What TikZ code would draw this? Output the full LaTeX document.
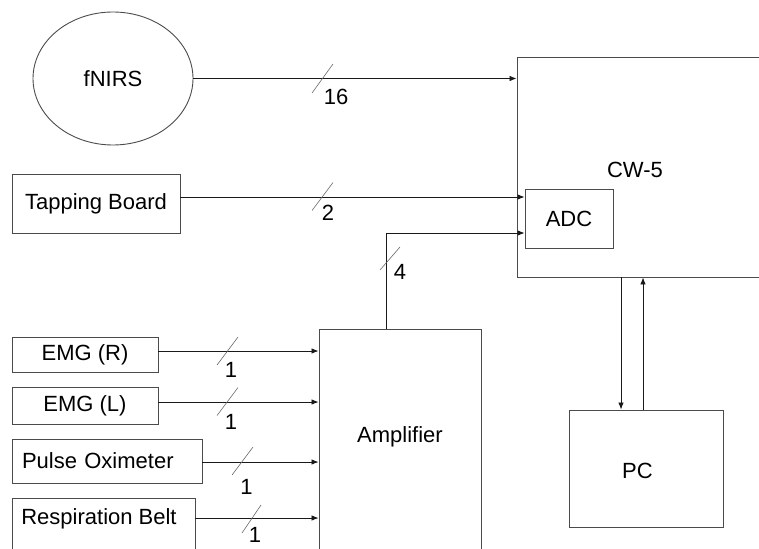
\documentclass[tikz,border=0pt]{standalone}
\usepackage{fontspec}
\setmainfont{Liberation Sans}
\usepackage{xcolor}
\usepackage{tikz}
\usetikzlibrary{shapes, arrows.meta, positioning}
\definecolor{boxgray}{RGB}{75, 75, 75}
\definecolor{wiregray}{RGB}{25, 25, 25}
\definecolor{slashgray}{RGB}{105, 105, 105}

\begin{document}
\begin{tikzpicture}[x=1pt, y=-1pt,
    font=\fontsize{22}{24}\selectfont,
    box/.style={draw=boxgray, line width=0.9pt, rectangle, inner sep=0pt},
    sig/.style={-{Latex[length=7pt,width=5.5pt]}, draw=wiregray, line width=0.8pt},
    slashmark/.style={draw=slashgray, line width=0.6pt},
    buslabel/.style={inner sep=0pt}]

    \useasboundingbox (0,0) rectangle (759,548);
    \clip (0,0) rectangle (759,548);

    % Sources
    \node[ellipse, draw=boxgray, line width=0.9pt, minimum width=160pt, minimum height=133pt] at (113,78.5) (fnirs) {fNIRS};
    \node[box, minimum width=168pt, minimum height=59pt] at (96,203.5) (tap) {Tapping Board};
    \node[box, minimum width=146pt, minimum height=35pt] at (85,354.5) (emgr) {EMG (R)};
    \node[box, minimum width=146pt, minimum height=37pt] at (85,405.5) (emgl) {EMG (L)};
    \node[box, minimum width=190pt, minimum height=44pt, text width=170pt, align=left] at (107,461) (pulse) {Pulse Oximeter};
    \node[box, minimum width=183pt, minimum height=62pt] at (103.5,529) (resp) {};
    \node at (99,519) (resptext) {Respiration Belt};

    % CW-5 with ADC
    \node[box, minimum width=300pt, minimum height=220pt] at (667,167) (cw) {};
    \node at (635,170) (cwtext) {CW-5};
    \node[box, minimum width=88pt, minimum height=59pt] at (569,218.5) (adc) {ADC};

    % Amplifier
    \node[box, minimum width=162pt, minimum height=231pt] at (400,444.5) (amp) {};
    \node at (400,437) (amptext) {Amplifier};

    % PC
    \node[box, minimum width=154pt, minimum height=117pt] at (646,468.5) (pc) {};
    \node at (637.5,471) (pctext) {PC};

    % Channels into CW-5
    \draw[sig] (fnirs.east) -- (fnirs.east -| cw.west);
    \coordinate (tapout) at ([yshift=6.5pt]tap.east);
    \draw[sig] (tapout) -- (tapout -| adc.west);
    \coordinate (ampout) at ([xshift=-14pt]amp.north);
    \draw[sig] (ampout) |- ([yshift=-14.5pt]adc.west);

    % Channels into the amplifier
    \coordinate (emgrout) at ([yshift=3.5pt]emgr.east);
    \draw[sig] (emgrout) -- (emgrout -| amp.west);
    \coordinate (emglout) at ([yshift=3.5pt]emgl.east);
    \draw[sig] (emglout) -- (emglout -| amp.west);
    \coordinate (pulseout) at ([yshift=-1pt]pulse.east);
    \draw[sig] (pulseout) -- (pulseout -| amp.west);
    \coordinate (respout) at ([yshift=11pt]resp.east);
    \draw[sig] (respout) -- (respout -| amp.west);

    % CW-5 <-> PC
    \coordinate (pcin) at ([xshift=-25pt]pc.north);
    \coordinate (pcout) at ([xshift=-3pt]pc.north);
    \draw[sig] (pcin |- cw.south) -- (pcin);
    \draw[sig] (pcout) -- (pcout |- cw.south);

    % Bus widths
    \draw[slashmark] (322.5,78.5) ++(-10.5,14.5) -- ++(21,-29);
    \node[buslabel] at (336,97) (w16) {16};
    \draw[slashmark] (322.5,196.5) ++(-10.5,14) -- ++(21,-28);
    \node[buslabel] at (328,213) (w2) {2};
    \draw[slashmark] (390,258.5) ++(-10,11.5) -- ++(20,-23);
    \node[buslabel] at (400,272) (w4) {4};
    \draw[slashmark] (227.5,351) ++(-10.5,14) -- ++(21,-28);
    \node[buslabel] at (231,370) (w1a) {1};
    \draw[slashmark] (227.5,401.5) ++(-10.5,14) -- ++(21,-28);
    \node[buslabel] at (231,422) (w1b) {1};
    \draw[slashmark] (242.5,461) ++(-10.5,14) -- ++(21,-28);
    \node[buslabel] at (246.5,487) (w1c) {1};
    \draw[slashmark] (251.5,519) ++(-9.5,14) -- ++(19,-28);
    \node[buslabel] at (255,535) (w1d) {1};

\end{tikzpicture}
\end{document}
